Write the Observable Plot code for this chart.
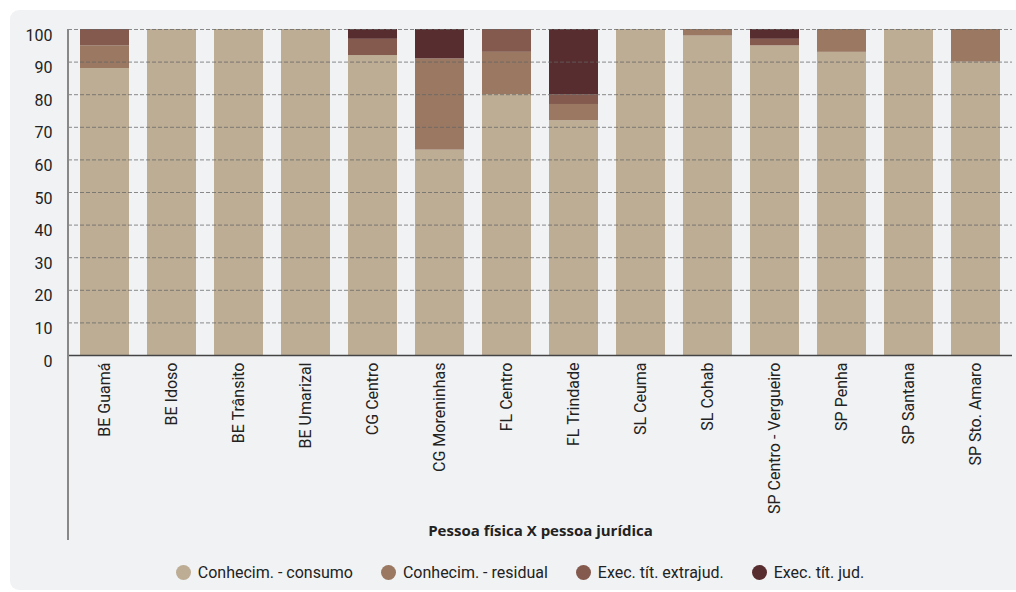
<!DOCTYPE html>
<html><head><meta charset="utf-8">
<script src="https://cdn.jsdelivr.net/npm/d3@7"></script>
<script src="https://cdn.jsdelivr.net/npm/@observablehq/plot@0.6"></script>
<style>
html,body{margin:0;padding:0;background:#fff;width:1016px;height:592px;overflow:hidden;font-family:Roboto,sans-serif;}
#panel{position:absolute;left:10px;top:10px;width:1020px;height:580px;background:#f1f2f4;border-radius:9px;}
#chart{position:absolute;left:0;top:0;}
#legend{position:absolute;left:0;width:1040px;top:563px;display:flex;justify-content:center;gap:28px;font-size:16px;color:#222;}
#legend .it{display:flex;align-items:center;gap:7px;}
#legend .dot{width:15px;height:15px;border-radius:50%;display:inline-block;}
#chart svg g[aria-label="y-axis tick label"] text,
#chart svg g[aria-label="x-axis tick label"] text{font-size:16px;font-family:Roboto,sans-serif;}
#chart svg g[aria-label="x-axis label"] text{font-size:15px;font-weight:bold;font-family:"Open Sans",sans-serif;}
</style></head>
<body>
<div id="panel"></div>
<div id="chart"></div>
<div id="legend"></div>
<script>
const categories = ["BE Guamá","BE Idoso","BE Trânsito","BE Umarizal","CG Centro","CG Moreninhas","FL Centro","FL Trindade","SL Ceuma","SL Cohab","SP Centro - Vergueiro","SP Penha","SP Santana","SP Sto. Amaro"];
const series = ["Conhecim. - consumo","Conhecim. - residual","Exec. tít. extrajud.","Exec. tít. jud."];
const consumo  = [88,100,100,100,92,63,80,72,100,98,95,93,100,90];
const residual = [7,0,0,0,0,28,13,5,0,2,0,7,0,10];
const extrajud = [5,0,0,0,5,0,7,3,0,0,2,0,0,0];
const jud      = [0,0,0,0,3,9,0,20,0,0,3,0,0,0];
const colors = ["#bcad94","#9a7862","#845a4e","#582d2f"];
const yTicks = [0,10,20,30,40,50,60,70,80,90,100];
const xTitle = "Pessoa física X pessoa jurídica";

const valuesBySeries = [consumo, residual, extrajud, jud];
const data = [];
series.forEach((s, si) => categories.forEach((c, ci) => data.push({cat: c, series: s, value: valuesBySeries[si][ci]})));

const chart = Plot.plot({
  width: 1016, height: 540,
  marginLeft: 68, marginRight: 4, marginTop: 29, marginBottom: 185,
  style: {background: "transparent", fontFamily: "Roboto, sans-serif", color: "#222"},
  x: {domain: categories, paddingInner: 0.272, paddingOuter: 0.149},
  y: {domain: [0, 100]},
  color: {domain: series, range: colors},
  marks: [
    Plot.barY(data, {x: "cat", y: "value", fill: "series"}),
    Plot.gridY(yTicks.filter(d => d > 0), {stroke: "#666", strokeOpacity: 0.75, strokeDasharray: "4,2"}),
    Plot.ruleY([0], {stroke: "#444", strokeWidth: 1.5}),
    Plot.axisY({ticks: yTicks, tickSize: 0, tickPadding: 16, label: null, dy: 6, fill: "#222"}),
    Plot.axisX({tickRotate: -90, tickSize: 0, tickPadding: 7, label: xTitle, labelAnchor: "center", labelOffset: 180, fill: "#222"})
  ]
});
const svg = d3.select(chart);
const xs = chart.scale("x"), ys = chart.scale("y");
svg.append("line")
  .attr("x1", xs.range[0]).attr("x2", xs.range[0])
  .attr("y1", ys.apply(100)).attr("y2", 541)
  .attr("stroke", "#888").attr("stroke-width", 2);
document.getElementById("chart").appendChild(chart);

const lg = d3.select("#legend");
series.forEach((s, i) => {
  const it = lg.append("div").attr("class", "it");
  it.append("span").attr("class", "dot").style("background", colors[i]);
  it.append("span").text(s);
});
</script>
</body></html>
